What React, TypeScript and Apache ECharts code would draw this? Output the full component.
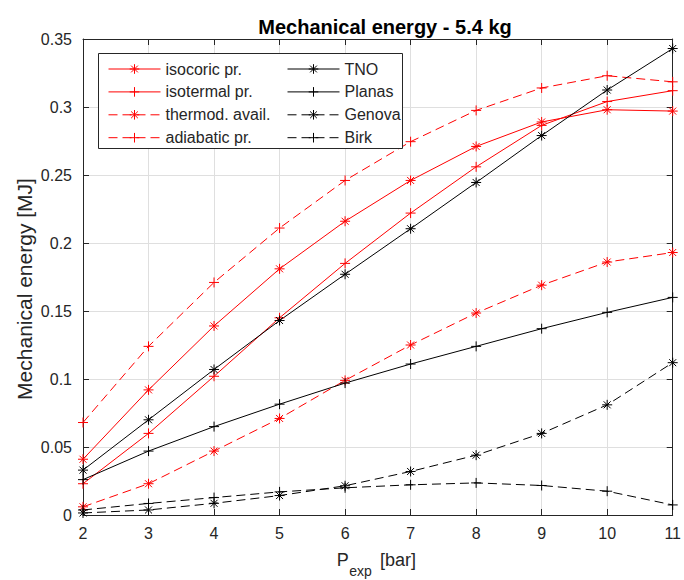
import React, { useEffect, useRef } from "react";
import * as echarts from "echarts";

const pressures = [2, 3, 4, 5, 6, 7, 8, 9, 10, 11];
const isocoric = [0.041, 0.092, 0.139, 0.181, 0.216, 0.246, 0.271, 0.289, 0.298, 0.297];
const isotermal = [0.023, 0.06, 0.102, 0.145, 0.185, 0.222, 0.256, 0.2865, 0.304, 0.312];
const thermod = [0.006, 0.023, 0.047, 0.071, 0.099, 0.125, 0.1485, 0.169, 0.186, 0.193];
const adiabatic = [0.068, 0.124, 0.171, 0.211, 0.246, 0.2745, 0.2975, 0.314, 0.323, 0.3185];
const tno = [0.033, 0.07, 0.107, 0.143, 0.177, 0.2105, 0.2445, 0.279, 0.3125, 0.343];
const planas = [0.026, 0.047, 0.065, 0.0815, 0.097, 0.111, 0.124, 0.137, 0.149, 0.16];
const genova = [0.0015, 0.0037, 0.0086, 0.0143, 0.0215, 0.032, 0.044, 0.06, 0.081, 0.112];
const birk = [0.0037, 0.0085, 0.0128, 0.017, 0.02, 0.0222, 0.0236, 0.0217, 0.0175, 0.0074];

const legendLeft = ["isocoric pr.", "isotermal pr.", "thermod. avail.", "adiabatic pr."];
const legendRight = ["TNO", "Planas", "Genova", "Birk"];

const FONT = "'Liberation Sans', Arial, Helvetica, sans-serif";
const AX = "#262626";
const RED = "#ff0000";
const BLACK = "#000000";
const DASH = [9, 5];
const PLUS = "path://M0 5L10 5M5 0L5 10";
const STAR = "path://M0 5L10 5M5 0L5 10M1.5 1.5L8.5 8.5M1.5 8.5L8.5 1.5";

function mk(name: string, vals: number[], color: string, dashed: boolean, symbol: string) {
  return {
    name,
    type: "line",
    data: pressures.map((p, i) => [p, vals[i]]),
    symbol,
    symbolSize: 10,
    showSymbol: true,
    clip: false,
    lineStyle: { color, width: 1, type: dashed ? DASH : "solid" },
    itemStyle: { color, borderColor: color, borderWidth: 1 },
    emphasis: { disabled: true },
    z: 2,
  };
}

export default function App() {
  const ref = useRef<HTMLDivElement>(null);
  useEffect(() => {
    if (!ref.current) return;
    const chart = echarts.init(ref.current, undefined, { renderer: "svg" });
    const legendCommon = {
      orient: "vertical",
      top: 56,
      itemWidth: 52,
      itemHeight: 12,
      itemGap: 6.9,
      selectedMode: false,
      textStyle: { fontSize: 16, color: AX, fontFamily: FONT },
      itemStyle: { borderWidth: 1 },
      lineStyle: { width: 1 },
      z: 10,
    };
    const axisLineStyle = { color: AX, width: 1 };
    chart.setOption({
      animation: false,
      backgroundColor: "#ffffff",
      title: {
        text: "Mechanical energy - 5.4 kg",
        left: 380,
        top: 12,
        textAlign: "center",
        textStyle: { fontSize: 20, fontWeight: "bold", color: "#000", fontFamily: FONT },
      },
      grid: { left: 83, right: 10, top: 39, bottom: 65, containLabel: false },
      xAxis: [
        {
          type: "value",
          min: 2,
          max: 11,
          interval: 1,
          position: "bottom",
          axisLine: { show: true, onZero: false, lineStyle: axisLineStyle },
          axisTick: { show: true, inside: true, length: 6, lineStyle: axisLineStyle },
          axisLabel: { fontSize: 16, color: AX, fontFamily: FONT, margin: 10 },
          splitLine: { show: true, lineStyle: { color: "#dfdfdf", width: 1 } },
        },
        {
          type: "value",
          min: 2,
          max: 11,
          interval: 1,
          position: "top",
          axisLine: { show: true, onZero: false, lineStyle: axisLineStyle },
          axisTick: { show: true, inside: true, length: 6, lineStyle: axisLineStyle },
          axisLabel: { show: false },
          splitLine: { show: false },
        },
      ],
      yAxis: [
        {
          type: "value",
          min: 0,
          max: 0.35,
          interval: 0.05,
          position: "left",
          axisLine: { show: true, onZero: false, lineStyle: axisLineStyle },
          axisTick: { show: true, inside: true, length: 6, lineStyle: axisLineStyle },
          axisLabel: { fontSize: 16, color: AX, fontFamily: FONT, margin: 11 },
          splitLine: { show: true, lineStyle: { color: "#dfdfdf", width: 1 } },
        },
        {
          type: "value",
          min: 0,
          max: 0.35,
          interval: 0.05,
          position: "right",
          axisLine: { show: true, onZero: false, lineStyle: axisLineStyle },
          axisTick: { show: true, inside: true, length: 6, lineStyle: axisLineStyle },
          axisLabel: { show: false },
          splitLine: { show: false },
        },
      ],
      legend: [
        { ...legendCommon, left: 103, data: legendLeft },
        { ...legendCommon, left: 282, data: legendRight },
      ],
      graphic: [
        {
          type: "rect",
          z: 5,
          shape: { x: 98.5, y: 53.5, width: 304, height: 95 },
          style: { fill: "#ffffff", stroke: AX, lineWidth: 1 },
        },
        {
          type: "text",
          x: 24.5,
          y: 289,
          rotation: Math.PI / 2,
          style: {
            text: "Mechanical energy [MJ]",
            font: `21px ${FONT}`,
            fill: AX,
            align: "center",
            verticalAlign: "middle",
            textAlign: "center",
            textVerticalAlign: "middle",
          },
        },
        {
          type: "text",
          x: 336.7,
          y: 560.4,
          style: { text: "P", font: `18px ${FONT}`, fill: AX, align: "left", verticalAlign: "middle", textAlign: "left", textVerticalAlign: "middle" },
        },
        {
          type: "text",
          x: 349.3,
          y: 571,
          style: { text: "exp", font: `14px ${FONT}`, fill: AX, align: "left", verticalAlign: "middle", textAlign: "left", textVerticalAlign: "middle" },
        },
        {
          type: "text",
          x: 380,
          y: 560.4,
          style: { text: "[bar]", font: `18px ${FONT}`, fill: AX, align: "left", verticalAlign: "middle", textAlign: "left", textVerticalAlign: "middle" },
        },
      ],
      series: [
        mk("isocoric pr.", isocoric, RED, false, STAR),
        mk("isotermal pr.", isotermal, RED, false, PLUS),
        mk("thermod. avail.", thermod, RED, true, STAR),
        mk("adiabatic pr.", adiabatic, RED, true, PLUS),
        mk("TNO", tno, BLACK, false, STAR),
        mk("Planas", planas, BLACK, false, PLUS),
        mk("Genova", genova, BLACK, true, STAR),
        mk("Birk", birk, BLACK, true, PLUS),
      ],
    });
    return () => chart.dispose();
  }, []);
  return <div ref={ref} style={{ width: 684, height: 580, position: "absolute", left: 0, top: 0 }} />;
}
